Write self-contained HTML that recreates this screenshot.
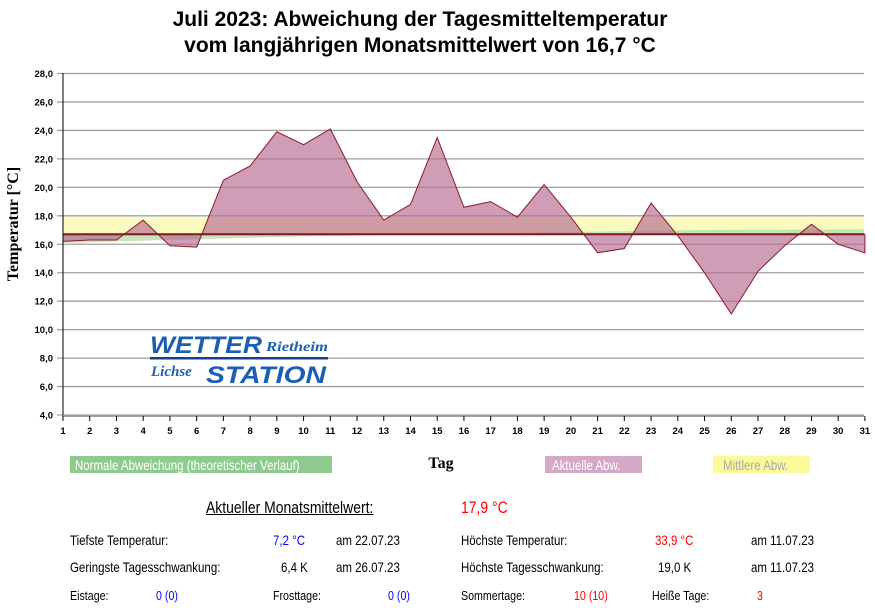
<!DOCTYPE html>
<html><head><meta charset="utf-8"><style>
body{margin:0;background:#fff;width:875px;height:608px;overflow:hidden;position:relative;font-family:"Liberation Sans",sans-serif}
.t{position:absolute;font-size:14px;white-space:nowrap;transform:scaleX(0.82);transform-origin:0 0}
.s{font-size:13px}
</style></head><body>
<svg width="875" height="608" style="position:absolute;left:0;top:0" id="s" xmlns="http://www.w3.org/2000/svg">
<text x="420" y="26" font-family="Liberation Sans" font-weight="bold" font-size="21" text-anchor="middle">Juli 2023: Abweichung der Tagesmitteltemperatur</text>
<text x="420" y="52" font-family="Liberation Sans" font-weight="bold" font-size="21" text-anchor="middle">vom langjährigen Monatsmittelwert von 16,7 °C</text>
<text transform="translate(18,224) rotate(-90)" font-family="Liberation Serif" font-weight="bold" font-size="16" text-anchor="middle">Temperatur [°C]</text>
<text x="441" y="468" font-family="Liberation Serif" font-weight="bold" font-size="16" text-anchor="middle">Tag</text>
<g id="g"></g>
</svg>
<div style="position:absolute;left:70px;top:456px;width:262px;height:17px;background:#8fcb8f"></div>
<div class="t" style="left:75px;top:457px;color:#fff">Normale Abweichung (theoretischer Verlauf)</div>
<div style="position:absolute;left:545px;top:456px;width:97px;height:17px;background:#d4a8c6"></div>
<div class="t" style="left:552px;top:457px;color:#fff">Aktuelle Abw.</div>
<div style="position:absolute;left:713px;top:456px;width:97px;height:17px;background:#fafa9a"></div>
<div class="t" style="left:723px;top:457px;color:#aaa">Mittlere Abw.</div>
<div class="t" style="left:206px;top:498px;font-size:17px;text-decoration:underline">Aktueller Monatsmittelwert:</div>
<div class="t" style="left:461px;top:498px;font-size:17px;color:#f00">17,9 °C</div>
<div class="t" style="left:70px;top:532px">Tiefste Temperatur:</div>
<div class="t" style="left:273px;top:532px;color:#00f">7,2 °C</div>
<div class="t" style="left:336px;top:532px">am 22.07.23</div>
<div class="t" style="left:461px;top:532px">Höchste Temperatur:</div>
<div class="t" style="left:655px;top:532px;color:#f00">33,9 °C</div>
<div class="t" style="left:751px;top:532px">am 11.07.23</div>
<div class="t" style="left:70px;top:559px">Geringste Tagesschwankung:</div>
<div class="t" style="left:281px;top:559px">6,4 K</div>
<div class="t" style="left:336px;top:559px">am 26.07.23</div>
<div class="t" style="left:461px;top:559px">Höchste Tagesschwankung:</div>
<div class="t" style="left:658px;top:559px">19,0 K</div>
<div class="t" style="left:751px;top:559px">am 11.07.23</div>
<div class="t s" style="left:70px;top:588px">Eistage:</div>
<div class="t s" style="left:156px;top:588px;color:#00f">0 (0)</div>
<div class="t s" style="left:273px;top:588px">Frosttage:</div>
<div class="t s" style="left:388px;top:588px;color:#00f">0 (0)</div>
<div class="t s" style="left:461px;top:588px">Sommertage:</div>
<div class="t s" style="left:574px;top:588px;color:#f00">10 (10)</div>
<div class="t s" style="left:652px;top:588px">Heiße Tage:</div>
<div class="t s" style="left:757px;top:588px;color:#f00">3</div>
<script>
var d=[16.2,16.3,16.3,17.7,15.9,15.8,20.5,21.5,23.9,23.0,24.1,20.4,17.7,18.8,23.5,18.6,19.0,17.9,20.2,17.9,15.4,15.7,18.9,16.6,14.0,11.1,14.1,15.9,17.4,16.0,15.4];
function X(i){return 63+i*26.73}function Y(v){return 73.5+(28-v)*14.23}
var h='';
h+='<rect x="63" y="'+Y(17.9)+'" width="801" height="'+(Y(16.7)-Y(17.9))+'" fill="#fbfbbf"/>';
h+='<polygon points="63,'+Y(16.7)+' 864,'+Y(16.7)+' 864,'+Y(17.05)+' 700,'+Y(17.0)+' 560,'+Y(16.85)+' 300,'+Y(16.55)+' 63,'+Y(16.1)+'" fill="#b9dcb0" opacity="0.8"/>';
for(var v=4;v<=28;v+=2){var y=Y(v);h+='<line x1="57" x2="864" y1="'+y+'" y2="'+y+'" stroke="#a0a0a0" stroke-width="1.3"/>';h+='<text x="53" y="'+(y+3.5)+'" font-family="Liberation Sans" font-weight="bold" font-size="9.5" text-anchor="end">'+v+',0</text>';}
var p=X(0)+','+Y(16.7);for(var i=0;i<31;i++)p+=' '+X(i).toFixed(1)+','+Y(d[i]).toFixed(1);p+=' '+X(30)+','+Y(16.7);
h+='<polygon points="'+p+'" fill="#b5688f" fill-opacity="0.65" stroke="#8b1a2a" stroke-width="1"/>';
h+='<line x1="63" x2="864" y1="'+Y(16.7)+'" y2="'+Y(16.7)+'" stroke="#7a1a1a" stroke-width="2"/>';
h+='<line x1="63" x2="63" y1="73" y2="416" stroke="#000"/><line x1="63" x2="864" y1="416" y2="416" stroke="#a0a0a0" stroke-width="2"/>';
for(var i=0;i<31;i++){var x=X(i);h+='<line x1="'+x+'" x2="'+x+'" y1="416" y2="421" stroke="#000"/><text x="'+x+'" y="434" font-family="Liberation Sans" font-weight="bold" font-size="9.5" text-anchor="middle">'+(i+1)+'</text>';}
h+='<text x="150" y="353" font-family="Liberation Sans" font-weight="bold" font-style="italic" font-size="24" fill="#1a5fb4" textLength="112" lengthAdjust="spacingAndGlyphs">WETTER</text>';
h+='<text x="266" y="351" font-family="Liberation Serif" font-weight="bold" font-style="italic" font-size="14" fill="#1a5fb4" textLength="62" lengthAdjust="spacingAndGlyphs">Rietheim</text>';
h+='<rect x="150" y="357" width="178" height="2.5" fill="#1a3f8a"/>';
h+='<text x="151" y="376" font-family="Liberation Serif" font-weight="bold" font-style="italic" font-size="15" fill="#1a5fb4">Lichse</text>';
h+='<text x="206" y="383" font-family="Liberation Sans" font-weight="bold" font-style="italic" font-size="24" fill="#1a5fb4" textLength="120" lengthAdjust="spacingAndGlyphs">STATION</text>';
document.getElementById('g').innerHTML=h;
</script>
</body></html>
